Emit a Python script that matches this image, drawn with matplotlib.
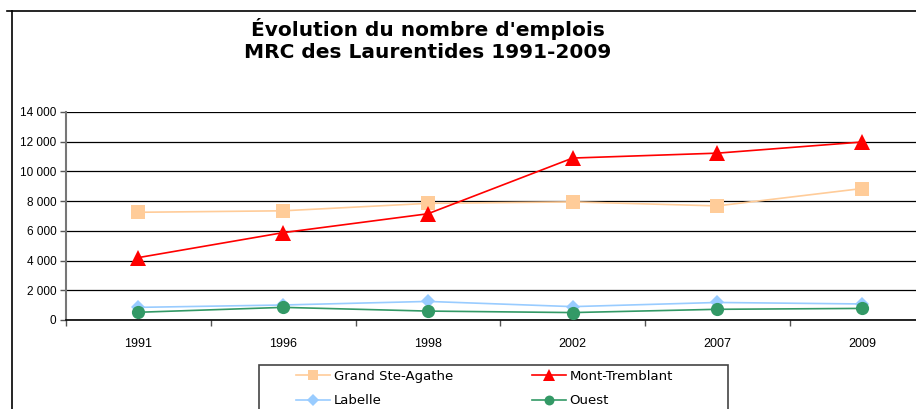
import matplotlib
matplotlib.use("Agg")
import matplotlib.pyplot as plt
from matplotlib.lines import Line2D
from matplotlib.patches import Rectangle
from matplotlib.ticker import FuncFormatter

years = ["1991", "1996", "1998", "2002", "2007", "2009"]
grand_ste_agathe = [7250, 7350, 7850, 7950, 7680, 8850]
mont_tremblant = [4200, 5880, 7150, 10900, 11230, 11980]
labelle = [850, 1010, 1250, 900, 1180, 1080]
ouest = [520, 850, 600, 500, 720, 780]

series = [
    ("Grand Ste-Agathe", grand_ste_agathe, "#FFCC99", "s", 9.5),
    ("Mont-Tremblant", mont_tremblant, "#FF0000", "^", 11),
    ("Labelle", labelle, "#99CCFF", "D", 7.5),
    ("Ouest", ouest, "#339966", "o", 9.5),
]

plt.rcParams['font.family'] = ['Liberation Sans', 'DejaVu Sans']

W, H = 916, 409
fig = plt.figure(figsize=(W / 100, H / 100), dpi=100)

# axes reaches past the right edge, like the original screenshot
ax = fig.add_axes([66 / W, 1 - 320 / H, (934.5 - 66) / W, 208 / H])

x = list(range(len(years)))
lines = {}
for name, vals, col, mk, ms in series:
    lines[name], = ax.plot(x, vals, color=col, marker=mk, markersize=ms,
                           markeredgewidth=0, linewidth=1.2, label=name, zorder=3)

ax.set_xlim(-0.5, len(years) - 0.5)
ax.set_ylim(0, 14000)
ax.set_yticks(range(0, 14001, 2000))
ax.yaxis.set_major_formatter(FuncFormatter(lambda v, p: f"{int(v):,}".replace(",", " ")))
ax.grid(axis='y', color='black', linewidth=0.9)
ax.set_axisbelow(True)

ax.set_xticks(x)
ax.set_xticklabels(years)
ax.set_xticks([i - 0.5 for i in range(len(years) + 1)], minor=True)
ax.tick_params(axis='x', which='major', length=0, pad=13, labelsize=9)
ax.tick_params(axis='x', which='minor', length=4, width=1, color='#555555')
ax.tick_params(axis='y', length=4, width=1, color='#555555', labelsize=8.5, pad=3)

for s in ['top', 'right']:
    ax.spines[s].set_visible(False)
ax.spines['left'].set_color('#777777')
ax.spines['left'].set_linewidth(1.5)
ax.spines['bottom'].set_color('black')
ax.spines['bottom'].set_linewidth(1.2)

# outer frame of the chart
fig.add_artist(Line2D([12 / W, 12 / W], [0, 1 - 11 / H], color='black', linewidth=1.2))
fig.add_artist(Line2D([7 / W, 1], [1 - 11 / H, 1 - 11 / H], color='black', linewidth=1.2))

fig.text(428 / W, 1 - 29 / H, "Évolution du nombre d'emplois", ha='center', va='center',
         fontsize=14.5, fontweight='bold', family='DejaVu Sans')
fig.text(428 / W, 1 - 53 / H, "MRC des Laurentides 1991-2009", ha='center', va='center',
         fontsize=14.5, fontweight='bold', family='DejaVu Sans')

# legend box (cut off at the bottom in the original)
fig.add_artist(Rectangle((259 / W, -0.1), (728 - 259) / W, 0.1 + 1 - 365 / H,
                         transform=fig.transFigure, fill=False, edgecolor='#444444',
                         linewidth=1.2))
order = ["Grand Ste-Agathe", "Labelle", "Mont-Tremblant", "Ouest"]
handles = [Line2D([], [], color=lines[n].get_color(), marker=lines[n].get_marker(),
                  markersize=lines[n].get_markersize() * 0.75, markeredgewidth=0,
                  linewidth=1.2) for n in order]
leg = fig.legend(handles, order, ncol=2, loc='upper left',
                 bbox_to_anchor=(296 / W, 1 - 370 / H), frameon=False,
                 prop={'family': 'DejaVu Sans', 'size': 9.5},
                 borderpad=0, borderaxespad=0, handlelength=2.6, handletextpad=0.25,
                 columnspacing=6.0, labelspacing=0.85)

fig.savefig("out.png", dpi=100)
